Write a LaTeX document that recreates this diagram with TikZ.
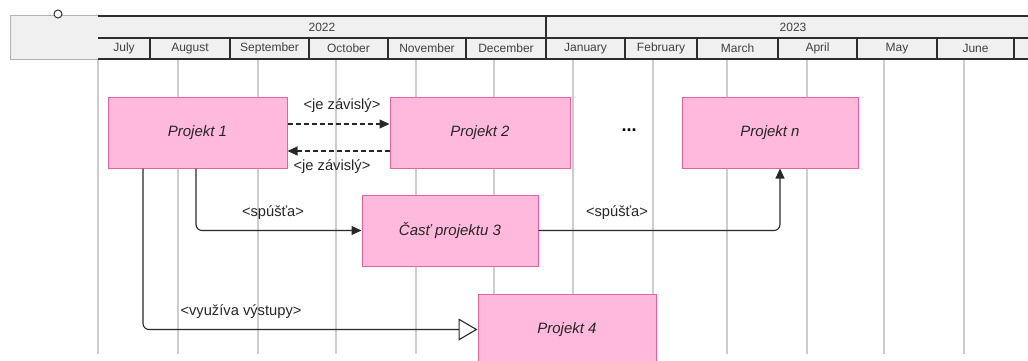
\documentclass[tikz,border=0pt]{standalone}
\usepackage{fontspec}
\setmainfont{Liberation Sans}
\usetikzlibrary{arrows.meta}
\definecolor{boxfill}{RGB}{255,185,220}
\definecolor{boxdraw}{RGB}{228,100,160}
\definecolor{hdrfill}{RGB}{240,240,240}
\definecolor{hdrline}{RGB}{45,45,45}
\definecolor{gridc}{RGB}{205,205,205}
\definecolor{linec}{RGB}{40,40,40}
\tikzset{
  proj/.style={draw=boxdraw, fill=boxfill, line width=1pt, minimum width=178pt, minimum height=71pt, inner sep=0pt, font=\fontsize{15}{17}\selectfont\itshape, text=black!85},
  lbl/.style={inner sep=0pt, font=\fontsize{14.7}{16}\selectfont, text=black!85},
  hdr/.style={inner sep=0pt, font=\fontsize{12}{14}\selectfont, text=black!75},
  conn/.style={draw=linec, line width=1.1pt},
  gridl/.style={draw=gridc, line width=1.2pt},
  hline/.style={draw=hdrline, line width=2pt},
  dsh/.style={dash pattern=on 5pt off 3pt},
}
\begin{document}
\begin{tikzpicture}[x=1pt,y=-1pt]
\useasboundingbox (0,0) rectangle (1028,361);
% left header box
\draw[fill=hdrfill, draw=gray!60, line width=0.8pt] (10,15) rectangle (98,59);
\node[circle, draw=hdrline, fill=white, line width=1pt, minimum size=8pt, inner sep=0pt] (knob) at (58,14) {};
% header rows
\fill[hdrfill] (98,16) rectangle (1028,59);
\draw[hline] (98,16) -- (1028,16);
\draw[hline] (98,38) -- (1028,38);
\draw[hline] (98,59) -- (1028,59);
\draw[hline] (546,16) -- (546,38);
\foreach \x in {150,230,309,388,466,546,625,697,778,857,937,1014} {
  \draw[hline] (\x,38) -- (\x,59);
}
\node[hdr] (y2022) at (322,27) {2022};
\node[hdr] (y2023) at (793,27) {2023};
\node[hdr] (m1) at (124,48.5) {July};
\node[hdr] (m2) at (190,48.5) {August};
\node[hdr] (m3) at (269.5,48.5) {September};
\node[hdr] (m4) at (348.5,48.5) {October};
\node[hdr] (m5) at (427,48.5) {November};
\node[hdr] (m6) at (506,48.5) {December};
\node[hdr] (m7) at (585.5,48.5) {January};
\node[hdr] (m8) at (661,48.5) {February};
\node[hdr] (m9) at (737.5,48.5) {March};
\node[hdr] (m10) at (817.5,48.5) {April};
\node[hdr] (m11) at (897,48.5) {May};
\node[hdr] (m12) at (975.5,48.5) {June};
% grid lines
\foreach \x in {98,178,258,336,416,494,573,653,727,807,884,964} {
  \draw[gridl] (\x,60) -- (\x,354);
}
% boxes
\node[proj, minimum width=179pt] (p1) at (197.5,132.5) {Projekt 1};
\node[proj, minimum width=180pt] (p2) at (480,132.5) {Projekt 2};
\node[proj, minimum width=176pt] (pn) at (770,132.5) {Projekt n};
\node[proj, minimum width=176pt] (p3) at (450,230.5) {Časť projektu 3};
\node[proj, minimum width=178pt] (p4) at (567,329.5) {Projekt 4};
\node[inner sep=0pt, font=\fontsize{18}{18}\selectfont\bfseries] (dots) at (629,130) {...};
% connectors
\draw[conn, dsh, -{Triangle[length=10pt,width=9pt]}] ([yshift=8.5pt]p1.east) -- ([yshift=8.5pt]p2.west);
\draw[conn, dsh, -{Triangle[length=10pt,width=9pt]}] ([yshift=-18.5pt]p2.west) -- ([yshift=-18.5pt]p1.east);
\draw[conn, rounded corners=6pt, -{Triangle[length=10pt,width=9pt]}] ([xshift=-1.5pt]p1.south) |- (p3.west);
\draw[conn, rounded corners=6pt, -{Triangle[length=10pt,width=9pt]}] (p3.east) -| ([xshift=10pt]pn.south);
\draw[conn, rounded corners=6pt, -{Triangle[open,fill=white,length=19pt,width=22pt]}] ([xshift=-54.5pt]p1.south) |- (p4.west);
% labels
\node[lbl] (l1) at (342,106) {<je závislý>};
\node[lbl] (l2) at (332,167) {<je závislý>};
\node[lbl] (l3) at (273,213) {<spúšťa>};
\node[lbl] (l4) at (617,213) {<spúšťa>};
\node[lbl] (l5) at (241,312) {<využíva výstupy>};
\end{tikzpicture}
\end{document}
